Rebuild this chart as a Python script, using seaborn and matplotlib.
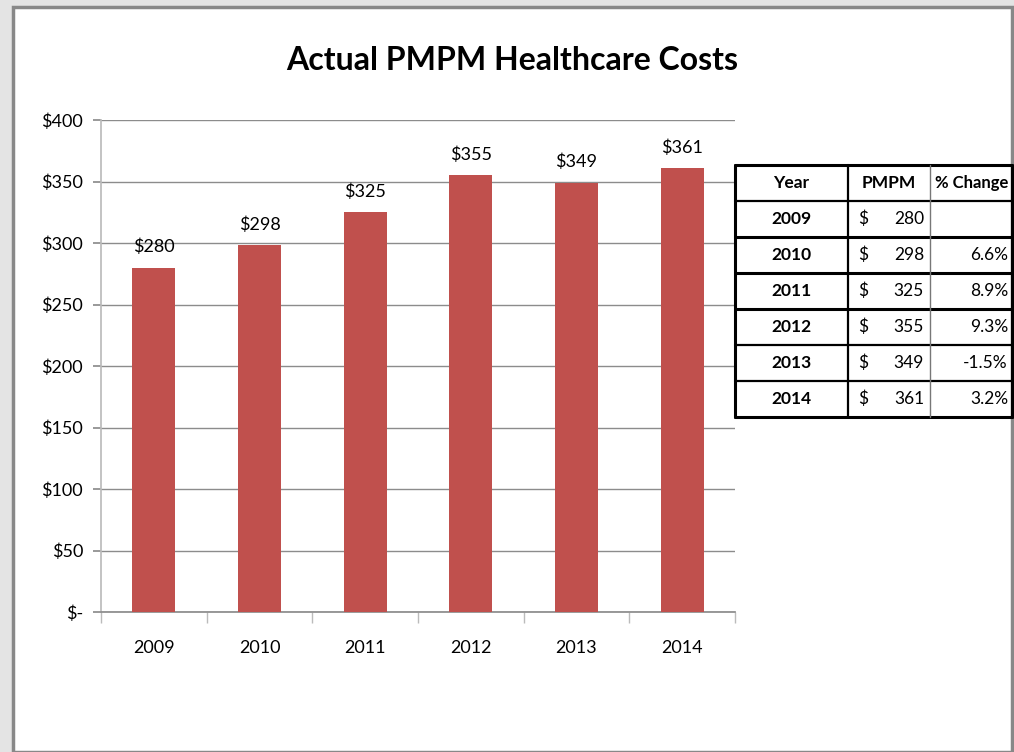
import matplotlib
matplotlib.use("Agg")
import matplotlib.pyplot as plt
import seaborn as sns
import pandas as pd
from matplotlib.patches import Rectangle
from matplotlib.lines import Line2D

years = ["2009", "2010", "2011", "2012", "2013", "2014"]
pmpm = [280, 298, 325, 355, 349, 361]
pct_change = ["", "6.6%", "8.9%", "9.3%", "-1.5%", "3.2%"]
yticks = [0, 50, 100, 150, 200, 250, 300, 350, 400]
ytick_labels = ["$-", "$50", "$100", "$150", "$200", "$250", "$300", "$350", "$400"]
title = "Actual PMPM Healthcare Costs"
table_header = ["Year", "PMPM", "% Change"]

sns.set_theme(style="white")
plt.rcParams['font.family'] = ['Lato', 'DejaVu Sans']
plt.rcParams['text.color'] = 'black'
plt.rcParams['xtick.color'] = 'black'
plt.rcParams['ytick.color'] = 'black'

W, H = 1014, 752
fig = plt.figure(figsize=(W / 100, H / 100), dpi=100)
fig.patch.set_facecolor("#e4e4e4")

def fx(x):
    return x / W

def fy(y):
    return 1 - y / H

# white panel
fig.add_artist(Rectangle((fx(13), fy(752)), fx(1012) - fx(13), fy(7) - fy(752),
                         transform=fig.transFigure, facecolor="white",
                         edgecolor="#888888", linewidth=2.5, zorder=0))

ax = fig.add_axes([fx(101), fy(612), fx(735) - fx(101), fy(120) - fy(612)])
df = pd.DataFrame({"year": years, "pmpm": pmpm})
sns.barplot(data=df, x="year", y="pmpm", color="#C0504D", saturation=1, width=0.41,
            linewidth=0, ax=ax, zorder=3)
ax.set_ylim(0, 400)
ax.set_xlim(-0.5, len(years) - 0.5)
ax.set_yticks(yticks)
ax.set_yticklabels(ytick_labels, fontsize=13)
ax.set_xlabel("")
ax.set_ylabel("")
ax.grid(axis="y", color="#8c8c8c", linewidth=1, zorder=0)
ax.set_axisbelow(True)
for s in ["top", "right"]:
    ax.spines[s].set_visible(False)
ax.spines["left"].set_color("#bbbbbb")
ax.spines["bottom"].set_color("#8c8c8c")
ax.tick_params(axis="y", length=6, color="#8c8c8c", pad=7, left=True)
ax.set_xticks(range(len(years)))
ax.set_xticklabels(years, fontsize=13)
ax.tick_params(axis="x", length=0, pad=20)
ax.set_xticks([i - 0.5 for i in range(len(years) + 1)], minor=True)
ax.tick_params(axis="x", which="minor", length=8, color="#bbbbbb", bottom=True)
for i, v in enumerate(pmpm):
    ax.text(i, v + 10, f"${v}", ha="center", va="bottom", fontsize=13, color="black")

fig.text(0.505, fy(60), title, ha="center", va="center", fontsize=23, fontweight="bold")

# table
cols = [735, 848, 930, 1012]
rows = [165, 201, 237, 273, 309, 345, 381, 417]
lw_thick = 2.2
lw_thin = 1.0
for i, y in enumerate(rows):
    lw = lw_thick if i in (0, 2, 3, 4, 7) else 1.6
    fig.add_artist(Line2D([fx(cols[0]), fx(cols[-1])], [fy(y), fy(y)], transform=fig.transFigure,
                          color="black", linewidth=lw))
for j, x in enumerate(cols):
    lw = lw_thick if j in (0, 3) else (1.6 if j == 1 else lw_thin)
    col = "black" if j != 2 else "#777777"
    fig.add_artist(Line2D([fx(x), fx(x)], [fy(rows[0]), fy(rows[-1])], transform=fig.transFigure,
                          color=col, linewidth=lw))

def cy(i):
    return fy((rows[i] + rows[i + 1]) / 2)

fs_t = 12.5
fig.text(fx((cols[0] + cols[1]) / 2), cy(0), table_header[0], ha="center", va="center", fontsize=fs_t, fontweight="bold")
fig.text(fx((cols[1] + cols[2]) / 2), cy(0), table_header[1], ha="center", va="center", fontsize=fs_t, fontweight="bold")
fig.text(fx((cols[2] + cols[3]) / 2 + 1), cy(0), table_header[2], ha="center", va="center", fontsize=fs_t - 0.5, fontweight="bold")
for i, (yr, v, p) in enumerate(zip(years, pmpm, pct_change)):
    r = i + 1
    fig.text(fx((cols[0] + cols[1]) / 2), cy(r), yr, ha="center", va="center", fontsize=fs_t, fontweight="bold")
    fig.text(fx(cols[1] + 10), cy(r), "$", ha="left", va="center", fontsize=fs_t)
    fig.text(fx(cols[2] - 6), cy(r), str(v), ha="right", va="center", fontsize=fs_t)
    if p:
        fig.text(fx(cols[3] - 4), cy(r), p, ha="right", va="center", fontsize=fs_t)

fig.savefig("out.png", dpi=100, facecolor=fig.get_facecolor())
